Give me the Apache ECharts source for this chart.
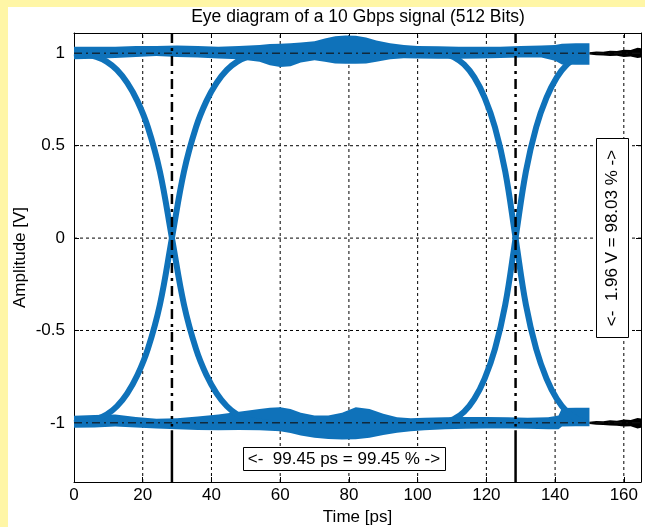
<!DOCTYPE html>
<html>
<head>
<meta charset="utf-8">
<script src="https://cdn.jsdelivr.net/npm/echarts@6.0.0/dist/echarts.min.js"></script>
<style>
  html, body { margin: 0; padding: 0; background: #fff6a6; }
  #main { position: absolute; left: 8px; top: 7px; width: 637px; height: 520px; background: #fff; }
</style>
</head>
<body>
<div id="main"></div>
<script>
  // axis limits and ticks
  var xMin = 0, xMax = 165;
  var yMin = -1.32, yMax = 1.11;
  var xTicks = [0, 20, 40, 60, 80, 100, 120, 140, 160];
  var yTicks = [-1, -0.5, 0, 0.5, 1];

  // upper rail (logic 1) envelope
  var topX  = [0, 6, 12, 18, 24, 30, 36, 42, 48, 54, 57, 60, 63, 66, 70, 73, 76, 79, 82, 85, 88, 92, 96, 100, 106, 112, 118, 124, 130, 136, 140, 142, 146, 150];
  var topHi = [1.035, 1.035, 1.035, 1.04, 1.04, 1.043, 1.04, 1.035, 1.04, 1.045, 1.05, 1.052, 1.055, 1.058, 1.065, 1.08, 1.092, 1.097, 1.095, 1.085, 1.07, 1.055, 1.045, 1.04, 1.038, 1.035, 1.035, 1.035, 1.04, 1.043, 1.045, 1.052, 1.054, 1.054];
  var topLo = [0.968, 0.97, 0.975, 0.98, 0.985, 0.98, 0.978, 0.972, 0.968, 0.955, 0.935, 0.926, 0.93, 0.95, 0.962, 0.955, 0.945, 0.944, 0.944, 0.945, 0.955, 0.968, 0.973, 0.972, 0.97, 0.97, 0.972, 0.975, 0.978, 0.978, 0.96, 0.94, 0.938, 0.938];

  // lower rail (logic 0) envelope
  var botX  = [0, 6, 12, 18, 24, 30, 36, 42, 48, 54, 57, 60, 63, 66, 70, 74, 78, 82, 86, 90, 94, 98, 102, 108, 114, 120, 126, 132, 138, 141, 142, 146, 150];
  var botHi = [-0.962, -0.958, -0.955, -0.968, -0.978, -0.975, -0.965, -0.955, -0.94, -0.925, -0.918, -0.915, -0.925, -0.945, -0.96, -0.96, -0.945, -0.915, -0.925, -0.95, -0.97, -0.975, -0.972, -0.97, -0.968, -0.968, -0.97, -0.972, -0.97, -0.96, -0.92, -0.918, -0.918];
  var botLo = [-1.027, -1.025, -1.02, -1.025, -1.03, -1.035, -1.038, -1.04, -1.038, -1.04, -1.042, -1.045, -1.055, -1.068, -1.08, -1.087, -1.09, -1.088, -1.08, -1.065, -1.054, -1.045, -1.04, -1.035, -1.032, -1.03, -1.03, -1.032, -1.035, -1.035, -1.02, -1.018, -1.018];

  // transitions
  var leftX      = [0, 3.5, 6.5, 9.5, 12.5, 15.5, 18.5, 21.5, 25, 28.5, 32, 35.5, 38.5, 41.5, 44.5, 47.5, 50.5, 53.5, 57];
  var leftFallY  = [1.0, 0.993, 0.98, 0.955, 0.91, 0.84, 0.74, 0.6, 0.36, 0, -0.36, -0.6, -0.74, -0.84, -0.91, -0.955, -0.98, -0.993, -1.0];
  var leftRiseY  = [-1.0, -0.993, -0.98, -0.955, -0.91, -0.84, -0.74, -0.6, -0.36, 0, 0.36, 0.6, 0.74, 0.84, 0.91, 0.955, 0.98, 0.993, 1.0];
  var rightX     = [107.5, 110.5, 113.5, 116.5, 119.5, 122.5, 125.5, 128.5, 131.5, 134.5, 137.5, 140.5, 143.5, 146.5, 149.5];
  var rightFallY = [1.0, 0.98, 0.94, 0.87, 0.76, 0.6, 0.36, 0, -0.36, -0.6, -0.76, -0.87, -0.94, -0.98, -1.0];
  var rightRiseY = [-1.0, -0.98, -0.94, -0.87, -0.76, -0.6, -0.36, 0, 0.36, 0.6, 0.76, 0.87, 0.94, 0.98, 1.0];

  // black traces after the eye
  var tailX     = [150, 152, 154, 156, 158, 160, 162, 164, 165];
  var tailTopHi = [1.006, 1.01, 1.008, 1.014, 1.012, 1.02, 1.018, 1.03, 1.028];
  var tailTopLo = [0.994, 0.99, 0.988, 0.985, 0.987, 0.98, 0.983, 0.975, 0.977];
  var tailBotHi = [-0.994, -0.99, -0.991, -0.986, -0.988, -0.982, -0.984, -0.974, -0.976];
  var tailBotLo = [-1.006, -1.01, -1.012, -1.014, -1.016, -1.02, -1.018, -1.03, -1.027];

  // markers
  var crossX = [28.5, 128.5];
  var railY = [1, -1];

  var blue = '#0f72ba';
  var font = "'Liberation Sans', Arial, sans-serif";

  function zip(xs, ys) {
    var out = [];
    for (var i = 0; i < xs.length; i++) out.push([xs[i], ys[i]]);
    return out;
  }

  function band(xs, hi, lo, color, z) {
    return {
      type: 'custom', z: z, silent: true, clip: true,
      data: [[xs[0], hi[0]]],
      renderItem: function (params, api) {
        var pts = [];
        for (var i = 0; i < xs.length; i++) pts.push(api.coord([xs[i], hi[i]]));
        for (var j = xs.length - 1; j >= 0; j--) pts.push(api.coord([xs[j], lo[j]]));
        return { type: 'polygon', shape: { points: pts }, style: { fill: color } };
      }
    };
  }

  function seg(data, style, z, smooth) {
    return { type: 'line', data: data, symbol: 'none', showSymbol: false, silent: true,
      smooth: smooth || false, lineStyle: style, z: z };
  }

  var series = [];
  // grid
  xTicks.forEach(function (v) {
    if (v > xMin) series.push(seg([[v, yMin], [v, yMax]], { color: '#000', width: 1, type: [3, 3] }, 1));
  });
  yTicks.forEach(function (v) {
    series.push(seg([[xMin, v], [xMax, v]], { color: '#000', width: 1, type: [3, 3] }, 1));
  });
  // rails
  series.push(band(topX, topHi, topLo, blue, 2));
  series.push(band(botX, botHi, botLo, blue, 2));
  // transitions
  series.push(seg(zip(leftX, leftFallY), { color: blue, width: 6 }, 3, 0.4));
  series.push(seg(zip(leftX, leftRiseY), { color: blue, width: 6 }, 3, 0.4));
  series.push(seg(zip(rightX, rightFallY), { color: blue, width: 6 }, 3, 0.4));
  series.push(seg(zip(rightX, rightRiseY), { color: blue, width: 6 }, 3, 0.4));
  // black tails
  series.push(band(tailX, tailTopHi, tailTopLo, '#000', 4));
  series.push(band(tailX, tailBotHi, tailBotLo, '#000', 4));
  // dash-dot rails
  railY.forEach(function (v) {
    series.push(seg([[xMin, v], [xMax, v]], { color: '#111', width: 1.5, type: [8, 4, 2, 4], opacity: 0.75 }, 5));
  });
  // crossing markers
  crossX.forEach(function (v) {
    series.push(seg([[v, yMax], [v, -1.02]], { color: '#000', width: 2.5, type: [10, 5, 3, 5] }, 5));
    series.push(seg([[v, -1.04], [v, yMin]], { color: '#000', width: 2.5 }, 5));
  });

  var chart = echarts.init(document.getElementById('main'), null, { renderer: 'canvas' });
  chart.setOption({
    animation: false,
    backgroundColor: '#fff',
    textStyle: { fontFamily: font },
    grid: { left: 66, top: 26, right: 4, bottom: 45, outerBoundsMode: 'none' },
    xAxis: [{
      type: 'value', min: xMin, max: xMax, position: 'bottom',
      axisLine: { show: true, onZero: false, lineStyle: { color: '#000', width: 1 } },
      axisTick: { show: true, inside: true, length: 5, customValues: xTicks, lineStyle: { color: '#000' } },
      axisLabel: { customValues: xTicks, color: '#000', fontSize: 17, fontFamily: font, margin: 5 },
      splitLine: { show: false },
      name: 'Time [ps]', nameLocation: 'middle', nameGap: 27, nameMoveOverlap: false,
      nameTextStyle: { color: '#000', fontSize: 17, fontFamily: font }
    }, {
      type: 'value', min: xMin, max: xMax, position: 'top',
      axisLine: { show: true, onZero: false, lineStyle: { color: '#000', width: 1 } },
      axisTick: { show: true, inside: true, length: 5, customValues: xTicks, lineStyle: { color: '#000' } },
      axisLabel: { show: false },
      splitLine: { show: false }
    }],
    yAxis: [{
      type: 'value', min: yMin, max: yMax, position: 'left',
      axisLine: { show: true, onZero: false, lineStyle: { color: '#000', width: 1 } },
      axisTick: { show: true, inside: true, length: 5, customValues: yTicks, lineStyle: { color: '#000' } },
      axisLabel: { customValues: yTicks, color: '#000', fontSize: 17, fontFamily: font, margin: 9 },
      splitLine: { show: false },
      name: 'Amplitude [V]', nameLocation: 'middle', nameGap: 45, nameRotate: 90, nameMoveOverlap: false,
      nameTextStyle: { color: '#000', fontSize: 17, fontFamily: font }
    }, {
      type: 'value', min: yMin, max: yMax, position: 'right',
      axisLine: { show: true, onZero: false, lineStyle: { color: '#000', width: 1 } },
      axisTick: { show: true, inside: true, length: 5, customValues: yTicks, lineStyle: { color: '#000' } },
      axisLabel: { show: false },
      splitLine: { show: false }
    }],
    graphic: [
      { type: 'text', x: 350, y: 10, z: 10,
        style: { text: 'Eye diagram of a 10 Gbps signal (512 Bits)', font: '17.5px ' + font, fill: '#000',
          align: 'center', verticalAlign: 'middle', textAlign: 'center', textVerticalAlign: 'middle' } },
      { type: 'rect', z: 10, shape: { x: 235.5, y: 440.5, width: 202, height: 23 },
        style: { fill: '#fff', stroke: '#000', lineWidth: 1 } },
      { type: 'text', x: 336, y: 452, z: 11,
        style: { text: '<-  99.45 ps = 99.45 % ->', font: '17px ' + font, fill: '#000',
          align: 'center', verticalAlign: 'middle', textAlign: 'center', textVerticalAlign: 'middle' } },
      { type: 'rect', z: 10, shape: { x: 588.5, y: 131.5, width: 32, height: 199 },
        style: { fill: '#fff', stroke: '#000', lineWidth: 1 } },
      { type: 'text', x: 604.5, y: 231, z: 11, rotation: Math.PI / 2,
        style: { text: '<-  1.96 V = 98.03 % ->', font: '17px ' + font, fill: '#000',
          align: 'center', verticalAlign: 'middle', textAlign: 'center', textVerticalAlign: 'middle' } }
    ],
    series: series
  });
</script>
</body>
</html>
